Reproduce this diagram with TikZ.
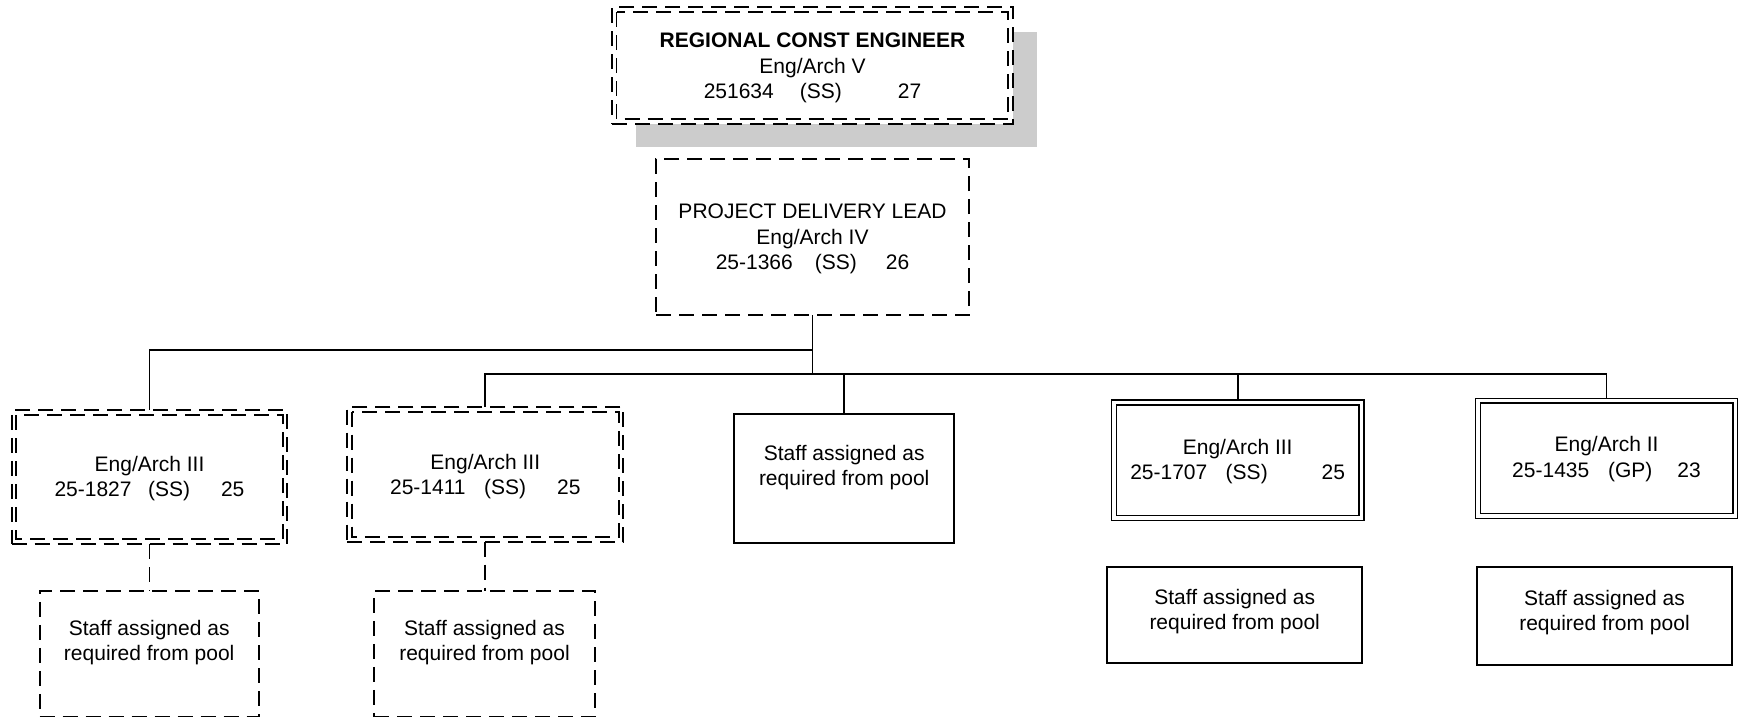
\documentclass[tikz,border=0pt]{standalone}
\usepackage{fontspec}
\setmainfont{Liberation Sans}
\pgfdeclarelayer{bg}
\pgfsetlayers{bg,main}
\definecolor{shadowgray}{HTML}{CCCCCC}
\tikzset{
  box/.style={rectangle, inner sep=0pt, outer sep=0pt, fill=white},
  dashbox/.style={box, draw, line width=1.9pt, dash pattern=on 15pt off 8pt},
  solidbox/.style={box, draw, line width=2pt},
  dblbox/.style={box, draw, line width=1.6pt},
  innerdash/.style={line width=1.9pt, dash pattern=on 15pt off 8pt},
  innersolid/.style={line width=1.6pt},
  conn/.style={line width=1.9pt},
  dashconn/.style={line width=1.9pt, dash pattern=on 15pt off 8pt},
  txt/.style={anchor=base, inner sep=0pt, outer sep=0pt, font=\fontsize{21}{25.5}\selectfont},
}
\begin{document}
\begin{tikzpicture}[x=1pt, y=-1pt]
\useasboundingbox (0,0) rectangle (1739,721);

% boxes
\node[dashbox, minimum width=401pt, minimum height=117pt] (rce) at (812.5,65.5) {};
\node[dashbox, minimum width=313pt, minimum height=156pt] (pdl) at (812.5,237) {};
\node[dashbox, minimum width=275.6pt, minimum height=134pt] (bA) at (149.5,477) {};
\node[dashbox, minimum width=219pt, minimum height=125.8pt] (sA) at (149.2,653.6) {};
\node[dashbox, minimum width=276pt, minimum height=135pt] (bB) at (485.3,474.2) {};
\node[dashbox, minimum width=221pt, minimum height=125.8pt] (sB) at (484.5,653.6) {};
\node[solidbox, minimum width=220.3pt, minimum height=128.7pt] (sC) at (844.2,478.3) {};
\node[dblbox, minimum width=252.6pt, minimum height=120.7pt] (bD) at (1237.7,460.3) {};
\node[solidbox, minimum width=254.7pt, minimum height=96pt] (sD) at (1234.7,614.7) {};
\node[dblbox, minimum width=262pt, minimum height=120pt] (bE) at (1606.5,458.3) {};
\node[solidbox, minimum width=255pt, minimum height=98.3pt] (sE) at (1604.5,615.8) {};

% shadow of the top box
\begin{pgfonlayer}{bg}
\fill[shadowgray] ([shift={(23.5,24.5)}]rce.north west) rectangle ([shift={(24,23)}]rce.south east);
\end{pgfonlayer}

% inner lines of the double boxes
\draw[innerdash] ([shift={(4.5,5)}]rce.north west) rectangle ([shift={(-5,-5)}]rce.south east);
\draw[innerdash] ([shift={(4.5,5)}]bA.north west) rectangle ([shift={(-4.5,-4.8)}]bA.south east);
\draw[innerdash] ([shift={(4.5,5)}]bB.north west) rectangle ([shift={(-4.6,-5)}]bB.south east);
\draw[innersolid] ([shift={(5.2,5)}]bD.north west) rectangle ([shift={(-4.8,-5)}]bD.south east);
\draw[innersolid] ([shift={(5,4.5)}]bE.north west) rectangle ([shift={(-4.5,-5)}]bE.south east);

% connectors
\coordinate (busA) at (0,350);
\coordinate (busB) at (0,374);
\draw[conn] (bA.north) -- (bA.north |- busA) -- (pdl.south |- busA);
\draw[conn] (pdl.south) -- (pdl.south |- busB);
\draw[conn] (bB.north) -- (bB.north |- busB) -- (bE.north |- busB) -- (bE.north);
\draw[conn] (sC.north) -- (sC.north |- busB);
\draw[conn] (bD.north) -- (bD.north |- busB);
\draw[dashconn] (bA.south) -- (bA.south |- sA.north);
\draw[dashconn] (bB.south) -- (bB.south |- sB.north);

% texts
\node[txt] (trce) at (812.5,47.5) {\begin{tabular}[t]{@{}c@{}}\textbf{REGIONAL CONST ENGINEER}\\Eng/Arch V\\251634\hspace{26pt}(SS)\hspace{56pt}27\end{tabular}};
\node[txt] (tpdl) at (812.5,218.5) {\begin{tabular}[t]{@{}c@{}}PROJECT DELIVERY LEAD\\Eng/Arch IV\\25-1366\hspace{22pt}(SS)\hspace{29pt}26\end{tabular}};
\node[txt] (tA) at (149.5,471) {\begin{tabular}[t]{@{}c@{}}Eng/Arch III\\25-1827\hspace{16.5pt}(SS)\hspace{31pt}25\end{tabular}};
\node[txt] (tB) at (485.3,469.3) {\begin{tabular}[t]{@{}c@{}}Eng/Arch III\\25-1411\hspace{18.5pt}(SS)\hspace{31pt}25\end{tabular}};
\node[txt] (tD) at (1237.7,454) {\begin{tabular}[t]{@{}c@{}}Eng/Arch III\\25-1707\hspace{18.4pt}(SS)\hspace{54pt}25\end{tabular}};
\node[txt] (tE) at (1606.5,451.7) {\begin{tabular}[t]{@{}c@{}}Eng/Arch II\\25-1435\hspace{18.8pt}(GP)\hspace{25pt}23\end{tabular}};
\node[txt] (tsA) at (149.2,635) {\begin{tabular}[t]{@{}c@{}}Staff assigned as\\required from pool\end{tabular}};
\node[txt] (tsB) at (484.5,635) {\begin{tabular}[t]{@{}c@{}}Staff assigned as\\required from pool\end{tabular}};
\node[txt] (tsC) at (844.2,460) {\begin{tabular}[t]{@{}c@{}}Staff assigned as\\required from pool\end{tabular}};
\node[txt] (tsD) at (1234.7,604) {\begin{tabular}[t]{@{}c@{}}Staff assigned as\\required from pool\end{tabular}};
\node[txt] (tsE) at (1604.5,605) {\begin{tabular}[t]{@{}c@{}}Staff assigned as\\required from pool\end{tabular}};
\end{tikzpicture}
\end{document}
